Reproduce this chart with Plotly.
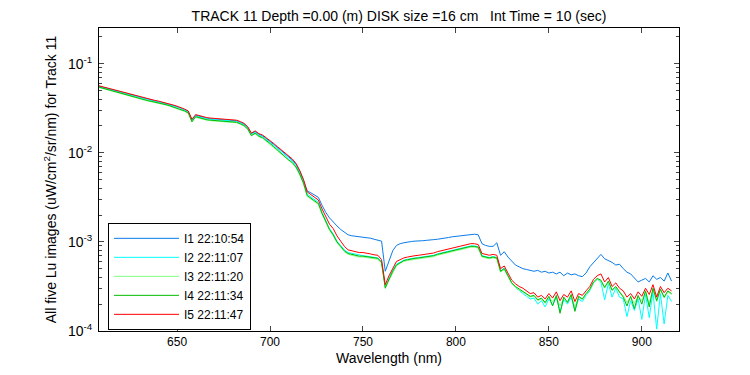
import plotly.graph_objects as go

# Wavelength grid (nm), 2 nm sampling
wavelength = list(range(608, 917, 2))

series_names = ["I1 22:10:54", "I2 22:11:07", "I3 22:11:20", "I4 22:11:34", "I5 22:11:47"]

i1 = [
    0.0558, 0.0544, 0.0530, 0.0516, 0.0502, 0.0488, 0.0475, 0.0463, 0.0451, 0.0439,
    0.0427, 0.0416, 0.0407, 0.0397, 0.0389, 0.0382, 0.0375, 0.0367, 0.0358, 0.0348,
    0.0338, 0.0329, 0.0320, 0.0305, 0.0291, 0.0233, 0.0264, 0.0256, 0.0249, 0.0244,
    0.0241, 0.0239, 0.0237, 0.0236, 0.0235, 0.0234, 0.0232, 0.0228, 0.0220, 0.0210,
    0.0193, 0.0163, 0.0173, 0.0161, 0.0155, 0.0145, 0.0134, 0.0124, 0.0115, 0.0106,
    0.00977, 0.00891, 0.00832, 0.00741, 0.00617, 0.00490, 0.00372, 0.00355, 0.00331, 0.00316,
    0.00257, 0.00214, 0.00186, 0.00166, 0.00151, 0.00138, 0.00129, 0.00120, 0.00117, 0.00116,
    0.00115, 0.00114, 0.00112, 0.00110, 0.00107, 0.00105, 0.00102, 0.000468, 0.000603, 0.000794,
    0.000912, 0.000955, 0.000977, 0.00100, 0.00101, 0.00102, 0.00102, 0.00103, 0.00104, 0.00106,
    0.00106, 0.00107, 0.00108, 0.00110, 0.00112, 0.00114, 0.00115, 0.00117, 0.00118, 0.00119,
    0.00121, 0.00122, 0.00120, 0.000955, 0.000912, 0.000891, 0.000891, 0.000977, 0.000708, 0.000776,
    0.000676, 0.000603, 0.000550, 0.000525, 0.000501, 0.000490, 0.000479, 0.000468, 0.000479, 0.000457,
    0.000468, 0.000447, 0.000457, 0.000437, 0.000457, 0.000417, 0.000447, 0.000427, 0.000437, 0.000417,
    0.000407, 0.000447, 0.000525, 0.000589, 0.000646, 0.000724, 0.000646, 0.000617, 0.000589, 0.000550,
    0.000562, 0.000501, 0.000457, 0.000437, 0.000398, 0.000355, 0.000372, 0.000389, 0.000355, 0.000417,
    0.000380, 0.000398, 0.000363, 0.000447, 0.000363,
]

i2 = [
    0.0552, 0.0538, 0.0524, 0.0510, 0.0496, 0.0482, 0.0470, 0.0458, 0.0446, 0.0434,
    0.0423, 0.0412, 0.0403, 0.0393, 0.0385, 0.0378, 0.0371, 0.0363, 0.0354, 0.0344,
    0.0334, 0.0325, 0.0316, 0.0301, 0.0287, 0.0230, 0.0260, 0.0252, 0.0246, 0.0241,
    0.0238, 0.0236, 0.0234, 0.0233, 0.0232, 0.0231, 0.0229, 0.0225, 0.0217, 0.0207,
    0.0190, 0.0160, 0.0170, 0.0158, 0.0152, 0.0142, 0.0131, 0.0121, 0.0111, 0.0102,
    0.00944, 0.00861, 0.00804, 0.00716, 0.00596, 0.00474, 0.00343, 0.00320, 0.00298, 0.00278,
    0.00214, 0.00170, 0.00141, 0.00123, 0.00102, 0.000912, 0.000813, 0.000759, 0.000741, 0.000724,
    0.000708, 0.000700, 0.000692, 0.000684, 0.000668, 0.000661, 0.000596, 0.000316, 0.000389, 0.000479,
    0.000562, 0.000596, 0.000623, 0.000638, 0.000654, 0.000661, 0.000668, 0.000676, 0.000684, 0.000700,
    0.000708, 0.000733, 0.000750, 0.000767, 0.000794, 0.000813, 0.000822, 0.000841, 0.000861, 0.000881,
    0.000901, 0.000901, 0.000881, 0.000700, 0.000684, 0.000668, 0.000684, 0.000668, 0.000468, 0.000507,
    0.000417, 0.000347, 0.000309, 0.000282, 0.000263, 0.000245, 0.000229, 0.000234, 0.000200, 0.000219,
    0.000186, 0.000229, 0.000195, 0.000240, 0.000166, 0.000224, 0.000200, 0.000240, 0.000170, 0.000229,
    0.000214, 0.000251, 0.000282, 0.000347, 0.000380, 0.000355, 0.000224, 0.000339, 0.000240, 0.000302,
    0.000240, 0.000229, 0.000145, 0.000219, 0.000170, 0.000229, 0.000135, 0.000257, 0.000141, 0.000275,
    0.000105, 0.000263, 0.000120, 0.000251, 0.000214,
]

i3 = [
    0.0540, 0.0525, 0.0511, 0.0498, 0.0484, 0.0470, 0.0458, 0.0446, 0.0434, 0.0423,
    0.0412, 0.0401, 0.0392, 0.0382, 0.0374, 0.0367, 0.0360, 0.0352, 0.0343, 0.0333,
    0.0323, 0.0314, 0.0305, 0.0291, 0.0277, 0.0226, 0.0250, 0.0243, 0.0237, 0.0232,
    0.0229, 0.0227, 0.0226, 0.0225, 0.0224, 0.0223, 0.0221, 0.0217, 0.0209, 0.0199,
    0.0182, 0.0158, 0.0163, 0.0151, 0.0145, 0.0135, 0.0124, 0.0114, 0.0105, 0.00966,
    0.00891, 0.00813, 0.00759, 0.00676, 0.00562, 0.00447, 0.00324, 0.00302, 0.00282, 0.00263,
    0.00204, 0.00162, 0.00135, 0.00117, 0.000977, 0.000871, 0.000776, 0.000724, 0.000708, 0.000692,
    0.000676, 0.000676, 0.000668, 0.000661, 0.000646, 0.000638, 0.000575, 0.000309, 0.000372, 0.000457,
    0.000537, 0.000575, 0.000603, 0.000617, 0.000631, 0.000638, 0.000646, 0.000654, 0.000661, 0.000676,
    0.000684, 0.000708, 0.000724, 0.000741, 0.000767, 0.000786, 0.000794, 0.000813, 0.000832, 0.000851,
    0.000871, 0.000871, 0.000851, 0.000676, 0.000661, 0.000646, 0.000661, 0.000646, 0.000457, 0.000490,
    0.000407, 0.000339, 0.000309, 0.000288, 0.000275, 0.000257, 0.000240, 0.000245, 0.000219, 0.000229,
    0.000204, 0.000240, 0.000214, 0.000245, 0.000191, 0.000234, 0.000214, 0.000251, 0.000186, 0.000240,
    0.000224, 0.000257, 0.000288, 0.000347, 0.000380, 0.000363, 0.000302, 0.000355, 0.000282, 0.000309,
    0.000269, 0.000251, 0.000209, 0.000240, 0.000204, 0.000245, 0.000219, 0.000275, 0.000204, 0.000295,
    0.000214, 0.000288, 0.000234, 0.000275, 0.000257,
]

i4 = [
    0.0545, 0.0530, 0.0516, 0.0503, 0.0488, 0.0474, 0.0462, 0.0450, 0.0438, 0.0427,
    0.0416, 0.0405, 0.0396, 0.0386, 0.0378, 0.0371, 0.0364, 0.0356, 0.0347, 0.0337,
    0.0327, 0.0318, 0.0309, 0.0295, 0.0281, 0.0222, 0.0254, 0.0247, 0.0240, 0.0235,
    0.0232, 0.0230, 0.0229, 0.0228, 0.0227, 0.0226, 0.0224, 0.0220, 0.0212, 0.0202,
    0.0185, 0.0155, 0.0166, 0.0154, 0.0148, 0.0138, 0.0127, 0.0117, 0.0107, 0.00985,
    0.00912, 0.00832, 0.00776, 0.00692, 0.00575, 0.00457, 0.00331, 0.00309, 0.00288, 0.00269,
    0.00209, 0.00166, 0.00138, 0.00120, 0.00100, 0.000891, 0.000794, 0.000741, 0.000724, 0.000708,
    0.000692, 0.000692, 0.000684, 0.000676, 0.000661, 0.000654, 0.000589, 0.000302, 0.000380, 0.000468,
    0.000550, 0.000589, 0.000617, 0.000631, 0.000646, 0.000654, 0.000661, 0.000668, 0.000676, 0.000692,
    0.000700, 0.000724, 0.000741, 0.000759, 0.000786, 0.000804, 0.000813, 0.000832, 0.000851, 0.000871,
    0.000891, 0.000891, 0.000871, 0.000692, 0.000676, 0.000661, 0.000676, 0.000661, 0.000468, 0.000501,
    0.000417, 0.000347, 0.000316, 0.000295, 0.000282, 0.000263, 0.000245, 0.000251, 0.000224, 0.000234,
    0.000209, 0.000245, 0.000191, 0.000251, 0.000158, 0.000240, 0.000209, 0.000257, 0.000166, 0.000245,
    0.000229, 0.000263, 0.000295, 0.000355, 0.000389, 0.000372, 0.000309, 0.000363, 0.000288, 0.000316,
    0.000275, 0.000240, 0.000191, 0.000245, 0.000178, 0.000251, 0.000200, 0.000282, 0.000186, 0.000302,
    0.000219, 0.000295, 0.000240, 0.000282, 0.000263,
]

i5 = [
    0.0564, 0.0550, 0.0537, 0.0522, 0.0508, 0.0494, 0.0481, 0.0468, 0.0457, 0.0444,
    0.0432, 0.0421, 0.0412, 0.0402, 0.0394, 0.0387, 0.0380, 0.0372, 0.0363, 0.0353,
    0.0343, 0.0333, 0.0324, 0.0309, 0.0295, 0.0237, 0.0268, 0.0260, 0.0253, 0.0248,
    0.0245, 0.0243, 0.0241, 0.0240, 0.0239, 0.0238, 0.0236, 0.0232, 0.0224, 0.0214,
    0.0196, 0.0166, 0.0176, 0.0164, 0.0158, 0.0148, 0.0137, 0.0127, 0.0117, 0.0108,
    0.0100, 0.00912, 0.00851, 0.00759, 0.00631, 0.00501, 0.00363, 0.00339, 0.00316, 0.00295,
    0.00234, 0.00191, 0.00158, 0.00141, 0.00117, 0.00102, 0.000891, 0.000813, 0.000794, 0.000776,
    0.000759, 0.000759, 0.000750, 0.000733, 0.000716, 0.000708, 0.000631, 0.000331, 0.000417, 0.000513,
    0.000603, 0.000631, 0.000661, 0.000676, 0.000692, 0.000700, 0.000708, 0.000716, 0.000724, 0.000741,
    0.000750, 0.000776, 0.000794, 0.000813, 0.000841, 0.000861, 0.000871, 0.000891, 0.000912, 0.000933,
    0.000955, 0.000955, 0.000933, 0.000741, 0.000724, 0.000708, 0.000724, 0.000708, 0.000501, 0.000537,
    0.000447, 0.000372, 0.000339, 0.000316, 0.000302, 0.000282, 0.000263, 0.000269, 0.000240, 0.000251,
    0.000229, 0.000263, 0.000234, 0.000275, 0.000219, 0.000257, 0.000240, 0.000282, 0.000214, 0.000263,
    0.000251, 0.000282, 0.000316, 0.000380, 0.000417, 0.000437, 0.000355, 0.000398, 0.000316, 0.000347,
    0.000302, 0.000282, 0.000240, 0.000263, 0.000229, 0.000275, 0.000245, 0.000302, 0.000257, 0.000331,
    0.000240, 0.000316, 0.000269, 0.000302, 0.000282,
]

series_values = [i1, i2, i3, i4, i5]
colors = ["#0A7CEB", "#00FFFF", "#80FF80", "#00BB00", "#FF0000"]

y_tick_vals = [1e-4, 1e-3, 1e-2, 1e-1]
y_tick_text = ["10<sup>-4</sup>", "10<sup>-3</sup>", "10<sup>-2</sup>", "10<sup>-1</sup>"]
x_tick_vals = [650, 700, 750, 800, 850, 900]

fig = go.Figure()
for name, vals, col in zip(series_names, series_values, colors):
    n = min(len(wavelength), len(vals))
    fig.add_trace(go.Scatter(x=wavelength[:n], y=vals[:n], mode="lines", name=name,
                             line=dict(color=col, width=1)))

minor_vals = [m * 10.0 ** e for e in range(-4, 0) for m in range(2, 10)]

# The page body adds an 8 px offset; margins compensate so the plot area lands
# at x 99..679, y 28..331 in the screenshot.
font_family = "Liberation Sans, Arial, sans-serif"
fig.update_layout(
    width=750, height=375,
    margin=dict(l=91, r=79, t=20, b=52),
    paper_bgcolor="white", plot_bgcolor="white",
    font=dict(family=font_family, size=12, color="black"),
    title=dict(text="TRACK 11 Depth =0.00 (m) DISK size =16 cm   Int Time = 10 (sec)",
               x=391 / 750, xanchor="center", y=1 - 8 / 375, yanchor="middle",
               font=dict(size=14)),
    showlegend=True,
    legend=dict(x=0.0155, y=0.357, xanchor="left", yanchor="top",
                bordercolor="black", borderwidth=1, bgcolor="white",
                font=dict(size=12), itemwidth=65, tracegroupgap=0),
)
fig.update_xaxes(
    range=[608, 920], tickvals=x_tick_vals, ticks="inside", ticklen=5,
    showline=True, linecolor="black", linewidth=1, mirror="ticks",
    showgrid=False, zeroline=False,
    title=dict(text="Wavelength (nm)", standoff=4),
)
fig.update_yaxes(
    type="log", range=[-4, -0.6], tickvals=y_tick_vals, ticktext=y_tick_text,
    ticks="inside", ticklen=5, tickfont=dict(size=14), ticklabelstandoff=3,
    minor=dict(tickvals=minor_vals, ticks="inside", ticklen=3, showgrid=False),
    showline=True, linecolor="black", linewidth=1, mirror="ticks",
    showgrid=False, zeroline=False,
    title=dict(text="All five Lu images (uW/cm<sup>2</sup>/sr/nm) for Track 11", standoff=8,
               font=dict(size=14)),
)
fig.write_html("out.html")
